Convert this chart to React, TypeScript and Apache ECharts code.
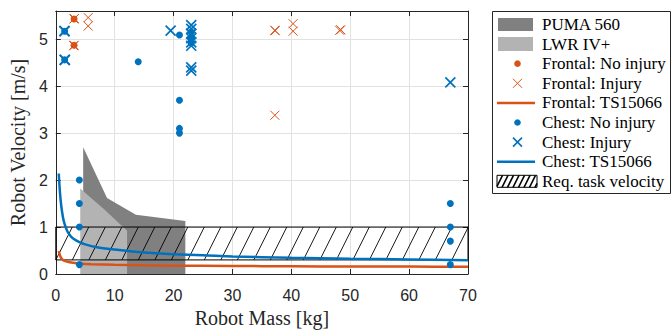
import React, { useEffect, useRef } from "react";
import * as echarts from "echarts";

// ---------- data ----------
const xTickLabels = [0, 10, 20, 30, 40, 50, 60, 70];
const yTickLabels = [0, 1, 2, 3, 4, 5];

const pumaX = [4.65, 4.65, 8.7, 13.6, 22.0, 22.0];
const pumaY = [0, 2.7, 1.62, 1.26, 1.13, 0];

const lwrX = [4.15, 4.15, 8.2, 12.1, 12.1];
const lwrY = [0, 1.82, 1.38, 0.92, 0];

const taskMass = [0, 70];
const taskVel = [1.0, 0.3];

const frontalTsMass = [0.5, 0.7, 0.9, 1.2, 1.5, 2, 3, 4, 6, 10, 15, 20, 30, 40, 50, 60, 70];
const frontalTsVel = [0.49, 0.4, 0.34, 0.3, 0.28, 0.26, 0.24, 0.225, 0.21, 0.195, 0.185, 0.178, 0.17, 0.165, 0.16, 0.158, 0.155];

const chestTsMass = [0.5, 0.7, 0.9, 1.2, 1.5, 2, 2.5, 3, 4, 5, 7, 10, 13, 17, 20, 25, 30, 40, 50, 60, 70];
const chestTsVel = [2.14, 1.75, 1.48, 1.22, 1.06, 0.9, 0.81, 0.75, 0.68, 0.63, 0.57, 0.52, 0.48, 0.44, 0.42, 0.4, 0.375, 0.345, 0.325, 0.31, 0.295];

const frontalNoInjMass = [3.1, 3.1];
const frontalNoInjVel = [5.43, 4.87];

const frontalInjMass = [3.1, 3.15, 3.1, 3.05, 5.5, 5.5, 37.2, 37.25, 37.2, 40.3, 40.3, 48.2, 48.4];
const frontalInjVel = [5.43, 5.44, 4.87, 4.86, 5.46, 5.28, 5.19, 5.18, 3.38, 5.33, 5.17, 5.19, 5.2];

const chestNoInjMass = [1.5, 1.5, 14.0, 21.0, 21.0, 21.0, 21.0, 23.0, 23.0, 23.0, 4.0, 4.0, 4.0, 4.0, 67, 67, 67, 67];
const chestNoInjVel = [5.17, 4.56, 4.52, 5.09, 3.7, 3.1, 3.0, 5.15, 5.02, 4.92, 2.0, 1.5, 1.0, 0.2, 1.5, 1.0, 0.7, 0.2];

const chestInjMass = [1.5, 1.45, 1.5, 1.55, 19.5, 23, 23, 23, 23, 23, 23, 23, 23, 67];
const chestInjVel = [5.17, 5.17, 4.56, 4.56, 5.18, 5.3, 5.22, 5.12, 5.02, 4.93, 4.86, 4.4, 4.33, 4.08];

const legendLabels = [
  "PUMA 560",
  "LWR IV+",
  "Frontal: No injury",
  "Frontal: Injury",
  "Frontal: TS15066",
  "Chest: No injury",
  "Chest: Injury",
  "Chest: TS15066",
  "Req. task velocity",
];

// ---------- styles ----------
const BLUE = "#0072BD";
const ORANGE = "#D95319";
const DARK = "#808080";
const LIGHT = "#b3b3b3";
const AX = "#262626";
const CROSS = "path://M0,0L10,10M10,0L0,10";

function hatchLines(x0: number, y0: number, w: number, h: number, spacing: number, dx: number) {
  const out: number[][] = [];
  const yb = y0 + h;
  for (let xb = x0 - dx; xb < x0 + w; xb += spacing) {
    let t0 = Math.max(0, (x0 - xb) / dx);
    let t1 = Math.min(1, (x0 + w - xb) / dx);
    if (t1 <= t0) continue;
    out.push([xb + dx * t0, yb - h * t0, xb + dx * t1, yb - h * t1]);
  }
  return out;
}

function polySeries(xs: number[], ys: number[], fill: string, z: number) {
  return {
    type: "custom",
    silent: true,
    z,
    clip: true,
    data: xs.map((x, i) => [x, ys[i]]),
    renderItem: (params: any, api: any) => {
      if (params.dataIndex !== 0) return null;
      const pts = xs.map((x, i) => api.coord([x, ys[i]]));
      return { type: "polygon", shape: { points: pts }, style: { fill, stroke: null } };
    },
  };
}

const pairs = (xs: number[], ys: number[]) => xs.map((x, i) => [x, ys[i]]);

export default function App() {
  const ref = useRef<HTMLDivElement>(null);
  useEffect(() => {
    document.body.style.margin = "0";
    if (!ref.current) return;
    const chart = echarts.init(ref.current, null, { renderer: "svg" });

    const hatchSeries = {
      type: "custom",
      silent: true,
      z: 3,
      clip: true,
      data: pairs(taskMass, taskVel),
      renderItem: (params: any, api: any) => {
        if (params.dataIndex !== 0) return null;
        const p0 = api.coord([taskMass[0], taskVel[0]]);
        const p1 = api.coord([taskMass[1], taskVel[1]]);
        const x0 = p0[0], y0 = p0[1], w = p1[0] - p0[0], h = p1[1] - p0[1];
        const children: any[] = hatchLines(x0, y0, w, h, 16.5, h / 2).map((l) => ({
          type: "line",
          shape: { x1: l[0], y1: l[1], x2: l[2], y2: l[3] },
          style: { stroke: "#000", lineWidth: 0.9 },
        }));
        children.push({
          type: "rect",
          shape: { x: x0, y: y0, width: w, height: h },
          style: { fill: "none", stroke: "#000", lineWidth: 1 },
        });
        return { type: "group", children };
      },
    };

    // legend
    const LX = 492, LY = 11, LW = 178, LH = 182;
    const rowY = (i: number) => 24.5 + i * 19.6;
    const textX = 542;
    const lg: any[] = [
      { type: "rect", shape: { x: LX + 0.5, y: LY + 0.5, width: LW, height: LH }, style: { fill: "#fff", stroke: AX, lineWidth: 1 } },
      { type: "rect", shape: { x: 498, y: rowY(0) - 6.5, width: 35, height: 13 }, style: { fill: DARK } },
      { type: "rect", shape: { x: 498, y: rowY(1) - 7, width: 35, height: 14 }, style: { fill: LIGHT } },
      { type: "circle", shape: { cx: 517.5, cy: rowY(2), r: 3.3 }, style: { fill: ORANGE } },
      { type: "line", shape: { x1: 513, y1: rowY(3) - 4.5, x2: 522, y2: rowY(3) + 4.5 }, style: { stroke: ORANGE, lineWidth: 1 } },
      { type: "line", shape: { x1: 522, y1: rowY(3) - 4.5, x2: 513, y2: rowY(3) + 4.5 }, style: { stroke: ORANGE, lineWidth: 1 } },
      { type: "line", shape: { x1: 497, y1: rowY(4), x2: 535, y2: rowY(4) }, style: { stroke: ORANGE, lineWidth: 2.5 } },
      { type: "circle", shape: { cx: 517.5, cy: rowY(5), r: 3.3 }, style: { fill: BLUE } },
      { type: "line", shape: { x1: 513, y1: rowY(6) - 4.5, x2: 522, y2: rowY(6) + 4.5 }, style: { stroke: BLUE, lineWidth: 1.6 } },
      { type: "line", shape: { x1: 522, y1: rowY(6) - 4.5, x2: 513, y2: rowY(6) + 4.5 }, style: { stroke: BLUE, lineWidth: 1.6 } },
      { type: "line", shape: { x1: 497, y1: rowY(7), x2: 535, y2: rowY(7) }, style: { stroke: BLUE, lineWidth: 2.5 } },
    ];
    const hx = 497, hy = rowY(8) - 6, hw = 40, hh = 12;
    hatchLines(hx, hy, hw, hh, 5.5, 6).forEach((l) =>
      lg.push({ type: "line", shape: { x1: l[0], y1: l[1], x2: l[2], y2: l[3] }, style: { stroke: "#000", lineWidth: 1.6 } })
    );
    lg.push({ type: "rect", shape: { x: hx, y: hy, width: hw, height: hh }, style: { fill: "none", stroke: "#000", lineWidth: 1 } });
    legendLabels.forEach((t, i) =>
      lg.push({
        type: "text",
        x: textX,
        y: rowY(i),
        style: { text: t, fill: "#000", font: '17px "Liberation Serif"', textVerticalAlign: "middle", verticalAlign: "middle" },
      })
    );

    const axisCommon = {
      type: "value",
      axisLine: { show: true, onZero: false, lineStyle: { color: AX, width: 1 } },
      axisTick: { show: true, inside: true, length: 5, lineStyle: { color: AX } },
    };

    const option: any = {
      animation: false,
      backgroundColor: "#fff",
      grid: { left: 51, top: 11, width: 417, height: 266, containLabel: false },
      xAxis: [
        {
          ...axisCommon,
          position: "bottom",
          min: 0,
          max: 70,
          interval: 10,
          axisLabel: {
            fontFamily: "Liberation Sans",
            fontSize: 16,
            color: AX,
            margin: 13,
            formatter: (v: number) => (xTickLabels.includes(v) ? String(v) : ""),
          },
          splitLine: { show: true, lineStyle: { color: "#e2e2e2", width: 1 } },
          name: "Robot Mass [kg]",
          nameLocation: "middle",
          nameGap: 34,
          nameTextStyle: { fontFamily: "Liberation Serif", fontSize: 20, color: AX },
        },
        {
          ...axisCommon,
          position: "top",
          min: 0,
          max: 70,
          interval: 10,
          axisLabel: { show: false },
          splitLine: { show: false },
        },
      ],
      yAxis: [
        {
          ...axisCommon,
          position: "left",
          min: 0,
          max: 5.6,
          interval: 1,
          axisLabel: {
            fontFamily: "Liberation Sans",
            fontSize: 16,
            color: AX,
            margin: 8,
            formatter: (v: number) => (yTickLabels.includes(v) ? String(v) : ""),
          },
          splitLine: { show: true, lineStyle: { color: "#e2e2e2", width: 1 } },
          name: "Robot Velocity [m/s]",
          nameLocation: "middle",
          nameGap: 25,
          nameTextStyle: { fontFamily: "Liberation Serif", fontSize: 20, color: AX },
        },
        {
          ...axisCommon,
          position: "right",
          min: 0,
          max: 5.6,
          interval: 1,
          axisLabel: { show: false },
          splitLine: { show: false },
        },
      ],
      series: [
        polySeries(pumaX, pumaY, DARK, 1),
        polySeries(lwrX, lwrY, LIGHT, 2),
        hatchSeries,
        {
          type: "line",
          data: pairs(frontalTsMass, frontalTsVel),
          showSymbol: false,
          smooth: 0.3,
          lineStyle: { color: ORANGE, width: 2.5 },
          z: 4,
          silent: true,
        },
        {
          type: "line",
          data: pairs(chestTsMass, chestTsVel),
          showSymbol: false,
          smooth: 0.3,
          lineStyle: { color: BLUE, width: 2.5 },
          z: 4,
          silent: true,
        },
        {
          type: "scatter",
          data: pairs(frontalNoInjMass, frontalNoInjVel),
          symbol: "circle",
          symbolSize: 7,
          itemStyle: { color: ORANGE, opacity: 1 },
          z: 5,
        },
        {
          type: "scatter",
          data: pairs(frontalInjMass, frontalInjVel),
          symbol: CROSS,
          symbolSize: 9,
          itemStyle: { color: "rgba(0,0,0,0)", borderColor: ORANGE, borderWidth: 1, opacity: 1 },
          z: 5,
        },
        {
          type: "scatter",
          data: pairs(chestNoInjMass, chestNoInjVel),
          symbol: "circle",
          symbolSize: 7,
          itemStyle: { color: BLUE, opacity: 1 },
          z: 5,
        },
        {
          type: "scatter",
          data: pairs(chestInjMass, chestInjVel),
          symbol: CROSS,
          symbolSize: 10,
          itemStyle: { color: "rgba(0,0,0,0)", borderColor: BLUE, borderWidth: 1.7, opacity: 1 },
          z: 5,
        },
      ],
      graphic: lg,
    };
    chart.setOption(option);
    return () => chart.dispose();
  }, []);
  return <div ref={ref} style={{ width: 671, height: 333 }} />;
}
